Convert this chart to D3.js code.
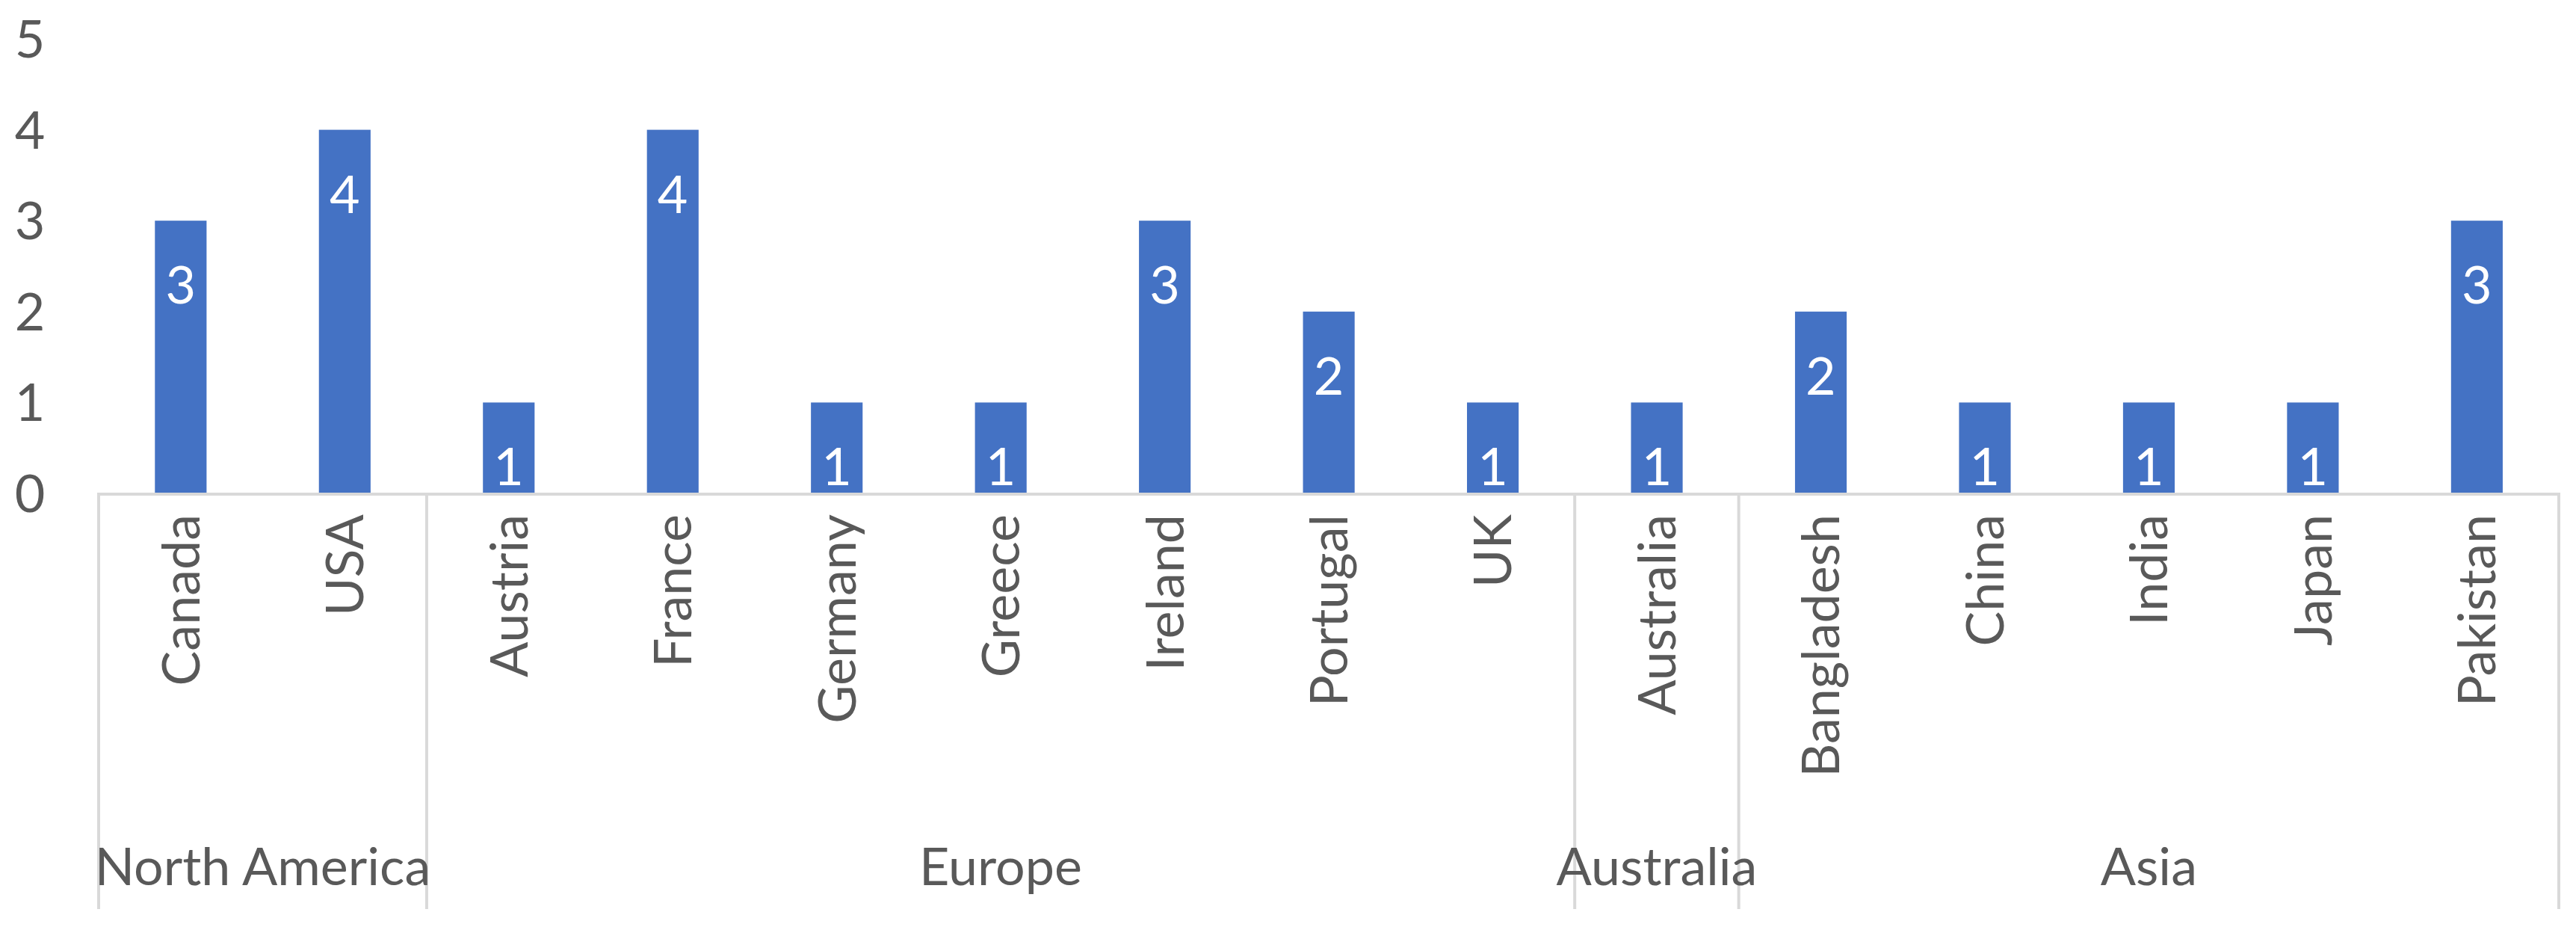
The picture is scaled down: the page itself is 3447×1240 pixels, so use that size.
<!DOCTYPE html><html><head><meta charset="utf-8"><script src="https://cdn.jsdelivr.net/npm/d3@7"></script>
<style>body{margin:0;background:#fff}text{font-family:Lato,"Noto Sans",sans-serif}</style></head><body>
<svg id="c" width="3447" height="1240"></svg>
<script>
const countries=["Canada","USA","Austria","France","Germany","Greece","Ireland","Portugal","UK","Australia","Bangladesh","China","India","Japan","Pakistan"];
const regions=["North America","North America","Europe","Europe","Europe","Europe","Europe","Europe","Europe","Australia","Asia","Asia","Asia","Asia","Asia"];
const values=[3,4,1,4,1,1,3,2,1,1,2,1,1,1,3];
const yTicks=[0,1,2,3,4,5];
const svg=d3.select("#c");
const FS=70;
const x=d3.scaleBand().domain(d3.range(countries.length)).range([132,3424]);
const y=d3.scaleLinear().domain([0,5]).range([660,52]);
const grey="#595959",line="#d9d9d9";
svg.selectAll(".b").data(values).join("rect").attr("x",(d,i)=>x(i)+x.bandwidth()*0.343).attr("width",x.bandwidth()*0.315)
 .attr("y",d=>y(d)).attr("height",d=>y(0)-y(d)).attr("fill","#4472c4");
svg.selectAll(".dl").data(values).join("text").attr("x",(d,i)=>x(i)+x.bandwidth()/2).attr("y",d=>y(d)+86+25)
 .attr("text-anchor","middle").attr("fill","#fff").attr("font-size",FS).text(d=>d);
svg.selectAll(".yt").data(yTicks).join("text").attr("x",40).attr("y",d=>y(d)+25).attr("text-anchor","middle")
 .attr("fill",grey).attr("font-size",FS).text(d=>d);
svg.append("line").attr("x1",132).attr("x2",3424).attr("y1",661).attr("y2",661).attr("stroke",line).attr("stroke-width",4);
svg.selectAll(".cl").data(countries).join("text").attr("transform",(d,i)=>`translate(${x(i)+x.bandwidth()/2+25},688) rotate(-90)`)
 .attr("text-anchor","end").attr("fill",grey).attr("font-size",FS).text(d=>d);
const groups=[];regions.forEach((r,i)=>{if(!groups.length||groups[groups.length-1].name!==r)groups.push({name:r,s:i,e:i});else groups[groups.length-1].e=i;});
const bounds=[0,...groups.map(g=>g.e+1)];
svg.selectAll(".gl").data(bounds).join("line").attr("x1",d=>d<countries.length?x(d):x.range()[1]).attr("x2",d=>d<countries.length?x(d):x.range()[1])
 .attr("y1",659).attr("y2",1216).attr("stroke",line).attr("stroke-width",4);
svg.selectAll(".gt").data(groups).join("text").attr("x",g=>(x(g.s)+x(g.e)+x.bandwidth())/2).attr("y",1184)
 .attr("text-anchor","middle").attr("fill",grey).attr("font-size",FS).text(g=>g.name);
</script></body></html>
